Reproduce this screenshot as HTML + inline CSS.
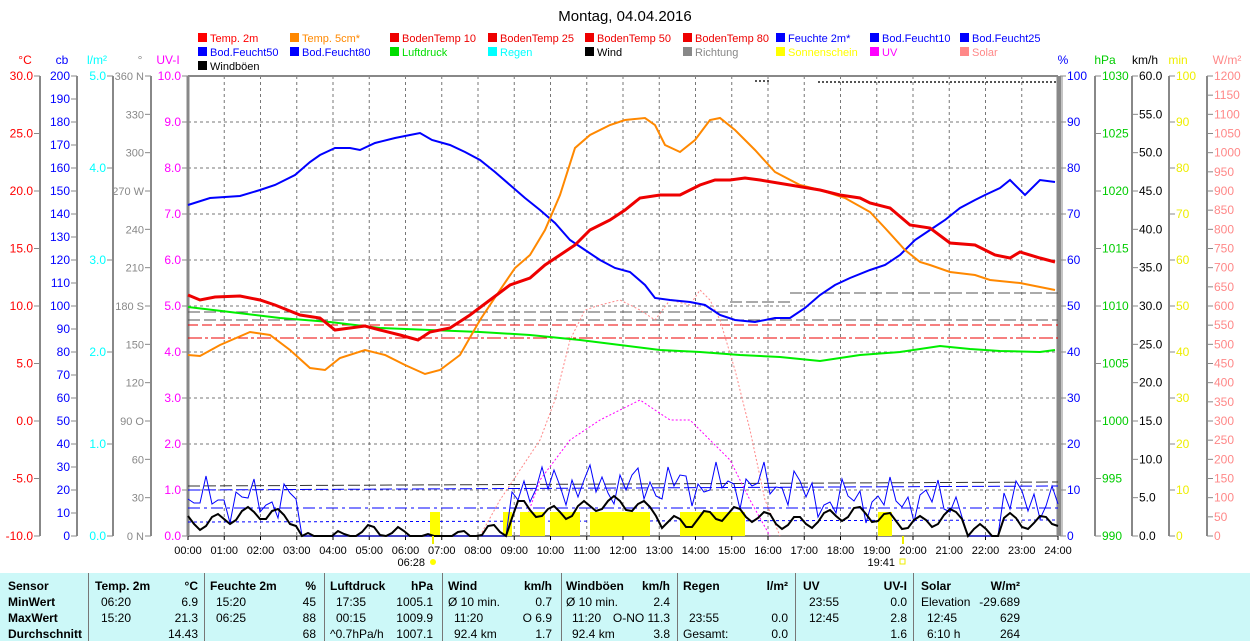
<!DOCTYPE html>
<html><head><meta charset="utf-8"><style>
body{margin:0;background:#fff;width:1250px;height:641px;overflow:hidden;font-family:"Liberation Sans",sans-serif}
svg text{font-family:"Liberation Sans",sans-serif}
#tbl{position:absolute;left:0;top:573px;width:1250px;height:68px;background:#ccf8f8;font-size:12px}
#tbl div{position:absolute;white-space:nowrap}
</style></head><body>
<svg id="s" width="1250" height="573" style="position:absolute;left:0;top:0"></svg>
<div id="tbl"></div>
<script>
const s=document.getElementById('s');let h='';
const T=(x,y,t,c,a,sz)=>{h+=`<text x="${x}" y="${y}" fill="${c}" font-size="${sz||12}" text-anchor="${a||'start'}">${t}</text>`};
const L=(x1,y1,x2,y2,c,w,d)=>{h+=`<line x1="${x1}" y1="${y1}" x2="${x2}" y2="${y2}" stroke="${c}" stroke-width="${w||1}" ${d?`stroke-dasharray="${d}"`:''}/>`};
const P=(pts,c,w,d)=>{h+=`<polyline fill="none" points="${pts}" stroke="${c}" stroke-width="${w||1}" ${d?`stroke-dasharray="${d}"`:''}/>`};
T(625,21,'Montag, 04.04.2016','#000','middle',15);
const X0=188,X1=1058,Y0=76,Y1=536;
for(let i=1;i<24;i++){let x=X0+i*36.25;L(x,Y0,x,Y1,'#777',1,'3,3');}
for(let i=1;i<10;i++){let y=Y0+i*46;L(X0,y,X1,y,'#777',1,'3,3');}
L(X0,Y0,X1,Y0,'#888',2);L(X0,Y1,X1,Y1,'#888',2);L(X0,Y0,X0,Y1,'#888',3);L(X1,Y0,X1,Y1,'#888',3);L(X1+4,Y0,X1+4,Y1,'#888',1);
for(let i=0;i<=24;i++){let x=X0+i*36.25;L(x,Y1,x,Y1+4,'#000');T(x,554,(i<10?'0':'')+i+':00','#000','middle',11);}
function ax(x,top,bot,n,fmt,c,left,unit,ux,sz){L(x,Y0,x,Y1,'#888',2);T(ux,64,unit,c,'middle',12);
 for(let i=0;i<=n;i++){let y=Y0+i*(Y1-Y0)/n;let v=fmt(top-(top-bot)*i/n);
  if(left){L(x-6,y,x,y,'#888');T(x-7,y+4,v,c,'end',sz);}else{L(x,y,x+6,y,'#888');T(x+7,y+4,v,c,'start',sz);}}}
ax(40,30,-10,8,v=>v.toFixed(1),'#f00',1,'°C',25);
ax(77,200,0,20,v=>Math.round(v),'#00f',1,'cb',62);
ax(113,5,0,5,v=>v.toFixed(1),'#0ff',1,'l/m²',97);
const dirs={360:'360 N',270:'270 W',180:'180 S',90:'90 O',0:'0 N'};
ax(151,360,0,12,v=>{v=Math.round(v);return dirs[v]||v},'#888',1,'°',140,11);
ax(188,10,0,10,v=>v.toFixed(1),'#f0f',1,'UV-I',168);
ax(1060,100,0,10,v=>Math.round(v),'#00f',0,'%',1063);
ax(1095,1030,990,8,v=>Math.round(v),'#0c0',0,'hPa',1105);
ax(1132,60,0,12,v=>v.toFixed(1),'#000',0,'km/h',1145);
ax(1169,100,0,10,v=>Math.round(v),'#ee0',0,'min',1178);
ax(1207,1200,0,24,v=>Math.round(v),'#f88',0,'W/m²',1227);
const lg=[['Temp. 2m','#f00'],['Temp. 5cm*','#f80'],['BodenTemp 10','#e00'],['BodenTemp 25','#e00'],['BodenTemp 50','#e00'],['BodenTemp 80','#e00'],['Feuchte 2m*','#00f'],['Bod.Feucht10','#00f'],['Bod.Feucht25','#00f'],
['Bod.Feucht50','#00f'],['Bod.Feucht80','#00f'],['Luftdruck','#0d0'],['Regen','#0ff'],['Wind','#000'],['Richtung','#888'],['Sonnenschein','#ff0'],['UV','#f0f'],['Solar','#f88'],['Windböen','#000']];
const cx=[198,290,390,488,585,683,776,870,960];
lg.forEach((l,i)=>{let r=Math.floor(i/9),c=i%9;let x=cx[c],y=33+r*14;h+=`<rect x="${x}" y="${y}" width="9" height="9" fill="${l[1]}"/>`;T(x+12,y+9,l[0],l[1],'start',11);});
L(188,325,1058,325,'#e00',1,'10,4');L(188,338,1058,338,'#e00',1,'14,3,3,3');
L(188,312,730,312,'#555',1,'12,4');L(730,302,790,302,'#555',1,'12,4');L(790,293,1058,293,'#555',1,'12,4');
L(188,320,1058,320,'#555',1,'12,4');
L(188,490,1058,486,'#00f',1,'12,4');L(188,508,1058,508,'#00f',1,'12,4,3,4');L(188,522,1058,520,'#00f',1,'3,3');
L(188,486,1058,482,'#333',1,'12,4');L(818,82,1058,82,'#555',2,'2,2');L(755,81,770,81,'#555',2,'2,2');
P('480,536,500,500,520,470,540,440,555,400,570,340,585,310,600,305,620,300,640,310,655,320,670,300,690,305,700,290,710,300,720,320,735,370,750,430,765,500,780,536','#f88',1,'2,2');
P('520,536,540,480,555,460,570,440,585,430,600,420,620,410,640,400,655,410,670,420,690,420,710,440,730,460,750,500,770,536','#f0f',1,'2,2');
[[430,440],[503,512],[520,545],[550,580],[590,650],[680,745],[878,892]].forEach(a=>{h+=`<rect x="${a[0]}" y="512" width="${a[1]-a[0]}" height="24" fill="#ff0"/>`});
let wb=[],w=[];for(let x=188;x<=1058;x+=6){let t=(x-188)/870*24;let act=(t<3)||(t>8.8&&t<21.5)||t>22.5;let base=act?(t>9&&t<17?485:500):536;let j=act?Math.sin(x*1.7)*14+Math.cos(x*0.9)*10:0;wb.push(x+','+Math.min(536,base+j).toFixed(0));let b2=act?(t>9&&t<13?508:518):536;w.push(x+','+Math.min(536,b2+Math.sin(x*2.3)*7+Math.cos(x*1.1)*5).toFixed(0));}
P(wb.join(' '),'#00f',1);P(w.join(' '),'#000',2);
P('188,307 230,312 280,318 330,322 380,328 430,330 480,332 530,335 580,340 620,345 660,350 700,352 740,355 780,357 820,361 860,355 900,352 940,346 970,349 1000,351 1040,352 1055,350','#0e0',2);
P('188,205 210,198 240,196 260,190 275,185 295,175 310,162 320,155 335,148 350,148 360,150 375,143 395,138 410,135 420,133 432,140 450,145 465,152 480,160 495,172 510,185 525,198 540,210 555,223 570,240 585,250 600,260 615,268 630,272 645,285 655,298 670,300 690,302 705,305 720,315 735,320 755,322 775,318 790,318 805,308 820,295 835,285 850,278 870,270 885,265 900,255 915,240 930,230 945,220 960,208 975,200 985,195 1000,188 1010,180 1025,195 1040,180 1055,182','#00f',2);
P('188,355 200,356 220,345 250,332 270,335 290,350 310,368 325,370 340,358 365,350 385,355 405,365 425,374 440,370 460,355 480,320 500,290 515,268 530,255 545,230 560,195 575,148 590,135 610,125 625,120 645,118 655,125 665,145 680,152 695,140 710,120 720,118 735,130 755,150 775,172 800,185 820,190 845,198 870,212 885,228 905,250 920,262 930,265 950,272 975,275 990,280 1020,283 1040,287 1055,290','#f80',2);
P('188,295 200,300 215,297 240,296 260,300 275,305 300,315 320,318 335,330 350,328 365,326 380,330 400,335 418,340 430,332 450,328 470,315 490,300 510,285 530,278 545,265 560,255 575,245 590,230 610,220 625,210 640,198 660,195 680,195 700,185 715,180 730,180 745,178 760,180 790,185 820,190 840,195 860,198 870,203 890,208 910,225 930,228 950,243 975,245 995,255 1010,258 1020,252 1040,258 1055,262','#e00',3);
T(425,566,'06:28','#000','end',11);h+=`<circle cx="433" cy="562" r="3" fill="#ff0"/>`;L(433,536,433,544,'#ee0',2);
T(895,566,'19:41','#000','end',11);h+=`<rect x="900" y="559" width="5" height="5" fill="none" stroke="#ee0"/>`;L(903,536,903,544,'#ee0',2);
s.innerHTML=h;
let tb='';const C=(x,y,t,b,a)=>{tb+=`<div style="left:${x}px;top:${y}px;${b?'font-weight:bold;':''}${a?'transform:translateX(-100%);':''}">${t}</div>`};
[88,204,324,442,561,677,795,913].forEach(x=>tb+=`<div style="left:${x}px;top:0;width:1px;height:68px;background:#777"></div>`);
C(8,6,'Sensor',1);C(8,22,'MinWert',1);C(8,38,'MaxWert',1);C(8,54,'Durchschnitt',1);
const cols=[[95,198,'Temp. 2m','°C',['06:20','15:20',''],['6.9','21.3','14.43']],[210,316,'Feuchte 2m','%',['15:20','06:25',''],['45','88','68']],[330,433,'Luftdruck','hPa',['17:35','00:15','^0.7hPa/h'],['1005.1','1009.9','1007.1']],[448,552,'Wind','km/h',['Ø 10 min.','11:20','92.4 km'],['0.7','O 6.9','1.7']],[566,670,'Windböen','km/h',['Ø 10 min.','11:20','92.4 km'],['2.4','O-NO 11.3','3.8']],[683,788,'Regen','l/m²',['','23:55','Gesamt:'],['','0.0','0.0']],[803,907,'UV','UV-I',['23:55','12:45',''],['0.0','2.8','1.6']],[921,1020,'Solar','W/m²',['Elevation','12:45','6:10 h'],['-29.689','629','264']]];
cols.forEach(c=>{C(c[0],6,c[2],1);C(c[1],6,c[3],1,1);c[4].forEach((v,i)=>C(c[0]+(v.match(/^[0-9]/)?6:0),22+i*16,v));c[5].forEach((v,i)=>C(c[1],22+i*16,v,0,1));});
document.getElementById('tbl').innerHTML=tb;
</script>
</body></html>
